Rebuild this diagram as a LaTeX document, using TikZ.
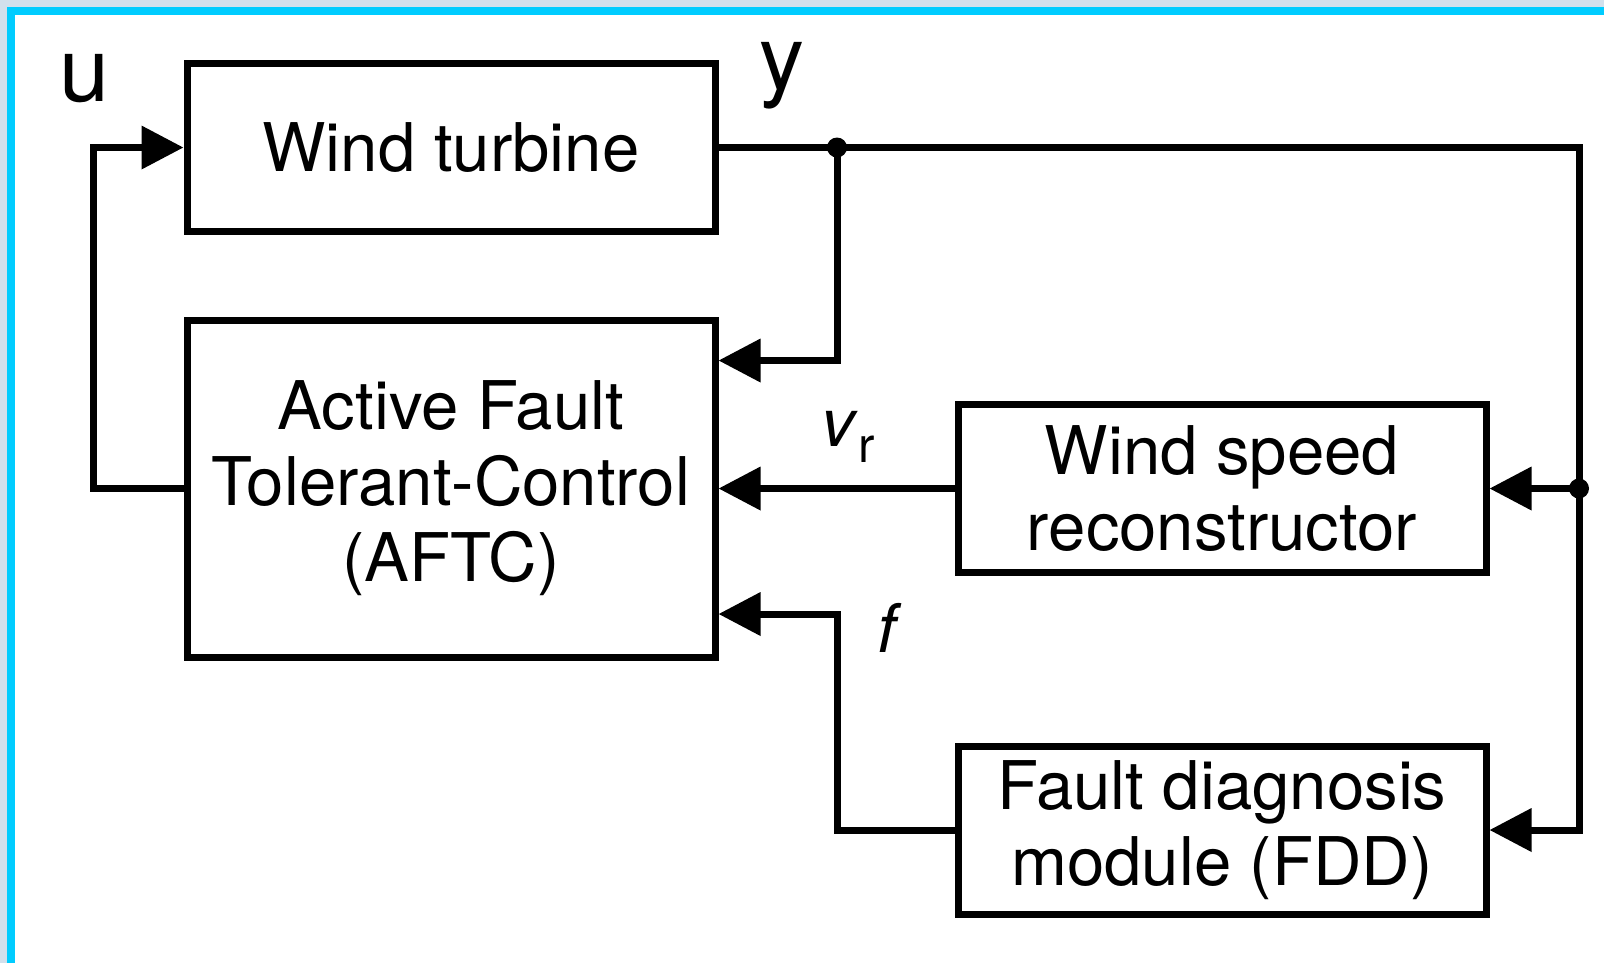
\documentclass[tikz,border=0pt]{standalone}
\usepackage{fontspec}
\setmainfont{TeX Gyre Heros}
\usetikzlibrary{arrows.meta}
\definecolor{framecyan}{RGB}{0,204,255}
\definecolor{outerblue}{RGB}{210,224,236}
\begin{document}
\begin{tikzpicture}[
                    line width=0.07cm,
                    block/.style={draw, minimum width=5.28cm, minimum height=1.68cm, align=center, font=\fontsize{19.1}{21.6}\selectfont},
                    dot/.style={circle, fill=black, inner sep=0pt, minimum size=0.2cm},
                    sig/.style={-{Triangle[length=0.42cm, width=0.42cm]}},
                    lbl/.style={inner sep=0pt, font=\fontsize{25.6}{25.6}\selectfont}
                ]
                \fill[outerblue] (0,0) rectangle (16.04,-9.63);
                \fill[framecyan] (0.07,-0.07) rectangle (16.04,-9.63);
                \fill[white] (0.155,-0.15) rectangle (16.04,-9.63);

                \node[block] (wt) at (4.51,-1.475) {Wind turbine};
                \node[block, minimum height=3.37cm] (aftc) at (4.51,-4.885) {Active Fault\\Tolerant-Control\\(AFTC)};
                \node[block] (wsr) at (12.22,-4.885) {Wind speed\\reconstructor};
                \node[block] (fdd) at (12.22,-8.30) {Fault diagnosis\\module (FDD)};

                \coordinate (corner) at (15.79,-1.475);
                \coordinate (yin) at ([yshift=1.28cm]aftc.east);
                \coordinate (fin) at ([yshift=-1.255cm]aftc.east);

                \node[lbl] (u) at (0.85,-0.785) {u};
                \node[lbl] (y) at (7.82,-0.755) {y};
                \node[inner sep=0pt, font=\fontsize{19.1}{19.1}\selectfont] (vr) at (8.48,-4.365) {\textit{v}\raisebox{-4.5pt}{\fontsize{14}{14}\selectfont r}};
                \node[inner sep=0pt, font=\fontsize{19.1}{19.1}\selectfont] (f) at (8.90,-6.275) {\textit{f}};

                \draw (wt.east) -- (8.37,-1.475) coordinate (split) -- (corner) -- (15.79,-4.885) coordinate (branch);
                \draw[sig] (split) |- (yin);
                \draw[sig] (branch) -- (wsr.east);
                \draw[sig] (branch) |- (fdd.east);
                \draw[sig] (wsr.west) -- (aftc.east);
                \draw[sig] (fdd.west) -| (split |- fin) -- (fin);
                \draw[sig] (aftc.west) -- ++(-0.90,0) |- (wt.west);

                \node[dot] (splitdot)  at (split) {};
                \node[dot] (branchdot) at (branch) {};

            \end{tikzpicture}
\end{document}
